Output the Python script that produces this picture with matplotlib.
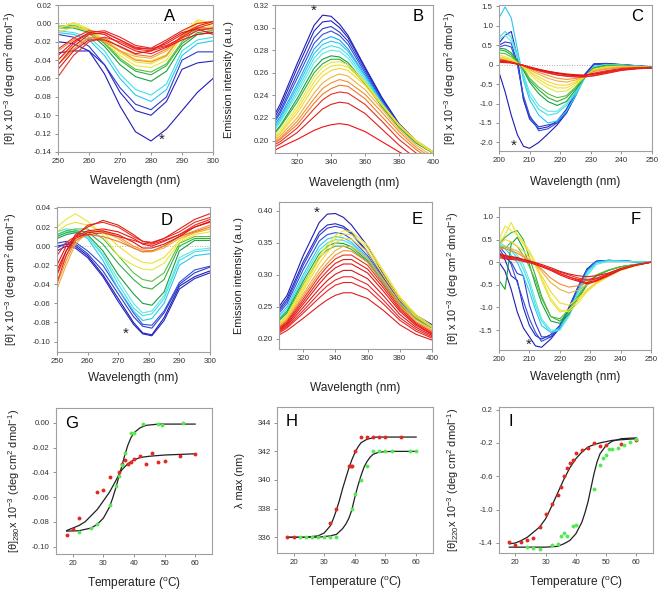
import matplotlib.pyplot as plt

plt.rcParams['font.family'] = ['Liberation Sans', 'DejaVu Sans']
plt.rcParams['mathtext.default'] = 'regular'
plt.rcParams['axes.unicode_minus'] = False

BLUE = ['#1c1cb4', '#2424c0', '#2c3ccc', '#3050d8']
CYAN = ['#1ea0f0', '#28c8f0', '#40e0e8', '#60e8e0']
GREEN = ['#18a040', '#30b040', '#58c040']
YELLOW = ['#e8e840', '#f0e030', '#f5d830']
ORANGE = ['#f0b040', '#f09030', '#f07828']
RED = ['#e83020', '#e02018', '#f01010', '#d81818', '#e82828', '#f02020']

# ---- A: near-UV CD, 250-300 nm
a_wl = [250, 255, 260, 265, 270, 275, 280, 285, 290, 295, 300]
a_curves = [
    [-0.020, -0.022, -0.030, -0.055, -0.090, -0.118, -0.128, -0.115, -0.095, -0.075, -0.060],
    [-0.032, -0.030, -0.030, -0.045, -0.075, -0.095, -0.100, -0.085, -0.050, -0.043, -0.041],
    [-0.012, -0.015, -0.025, -0.045, -0.070, -0.088, -0.094, -0.080, -0.040, -0.031, -0.031],
    [-0.010, -0.012, -0.018, -0.035, -0.060, -0.078, -0.085, -0.072, -0.035, -0.022, -0.019],
    [-0.008, -0.010, -0.015, -0.030, -0.055, -0.072, -0.078, -0.066, -0.030, -0.018, -0.015],
    [-0.005, -0.005, -0.010, -0.025, -0.045, -0.058, -0.063, -0.052, -0.025, -0.012, -0.010],
    [-0.004, -0.004, -0.008, -0.022, -0.040, -0.052, -0.056, -0.046, -0.022, -0.010, -0.008],
    [-0.003, -0.002, -0.007, -0.020, -0.038, -0.050, -0.053, -0.044, -0.020, -0.006, -0.006],
    [-0.005, 0.000, -0.008, -0.020, -0.035, -0.046, -0.048, -0.040, -0.015, 0.002, -0.002],
    [-0.006, 0.001, -0.006, -0.018, -0.032, -0.042, -0.044, -0.036, -0.012, 0.004, 0.000],
    [-0.010, -0.004, -0.008, -0.018, -0.030, -0.039, -0.041, -0.034, -0.014, 0.000, -0.004],
    [-0.040, -0.025, -0.015, -0.018, -0.030, -0.036, -0.038, -0.030, -0.015, -0.005, -0.005],
    [-0.030, -0.018, -0.012, -0.020, -0.030, -0.040, -0.042, -0.035, -0.012, -0.005, -0.008],
    [-0.045, -0.028, -0.016, -0.016, -0.026, -0.034, -0.036, -0.028, -0.014, -0.004, -0.006],
    [-0.058, -0.035, -0.020, -0.015, -0.020, -0.028, -0.030, -0.025, -0.015, -0.005, 0.000],
    [-0.045, -0.025, -0.012, -0.010, -0.018, -0.027, -0.028, -0.022, -0.012, -0.003, 0.002],
    [-0.035, -0.020, -0.010, -0.012, -0.022, -0.030, -0.033, -0.026, -0.018, -0.012, -0.010],
    [-0.050, -0.030, -0.018, -0.018, -0.025, -0.033, -0.030, -0.020, -0.010, -0.006, -0.012],
    [-0.028, -0.016, -0.008, -0.010, -0.018, -0.026, -0.028, -0.024, -0.016, -0.008, -0.005],
    [-0.040, -0.022, -0.010, -0.008, -0.015, -0.024, -0.027, -0.018, -0.008, 0.000, 0.002],
]
a_colors = BLUE[:3] + CYAN[1:3] + GREEN + YELLOW + ORANGE + RED

# ---- B: fluorescence emission
b_wl = [305, 310, 320, 330, 335, 340, 345, 350, 360, 370, 380, 390, 400]
b_curves = [
    [.218, .232, .268, .302, .311, .310, .303, .293, .265, .238, .215, .200, .190],
    [.216, .229, .264, .297, .305, .306, .300, .291, .264, .237, .214, .199, .190],
    [.214, .226, .259, .291, .299, .301, .296, .288, .262, .236, .214, .199, .190],
    [.212, .224, .255, .286, .294, .297, .293, .285, .260, .235, .213, .199, .189],
    [.210, .221, .250, .281, .289, .292, .289, .281, .258, .234, .213, .199, .189],
    [.208, .219, .247, .277, .285, .288, .286, .279, .257, .233, .213, .199, .189],
    [.207, .217, .244, .273, .281, .284, .282, .276, .255, .232, .212, .198, .189],
    [.206, .216, .241, .269, .277, .280, .279, .273, .253, .231, .212, .198, .189],
    [.204, .213, .237, .264, .272, .275, .274, .269, .251, .230, .212, .198, .189],
    [.203, .212, .234, .260, .268, .272, .272, .267, .250, .230, .212, .198, .189],
    [.201, .209, .230, .256, .265, .269, .270, .267, .252, .232, .214, .200, .190],
    [.200, .207, .227, .252, .261, .266, .267, .265, .251, .232, .214, .200, .190],
    [.199, .206, .224, .248, .257, .262, .264, .262, .249, .231, .213, .199, .189],
    [.198, .204, .220, .242, .251, .256, .259, .257, .245, .228, .210, .196, .186],
    [.197, .202, .217, .237, .246, .251, .254, .252, .241, .225, .208, .194, .184],
    [.196, .201, .214, .233, .241, .246, .249, .248, .237, .221, .205, .192, .182],
    [.195, .199, .211, .228, .236, .241, .243, .242, .232, .217, .201, .189, .179],
    [.193, .197, .207, .221, .228, .232, .234, .233, .224, .210, .196, .184, .175],
    [.190, .194, .201, .209, .212, .214, .215, .214, .208, .199, .190, .182, .174],
]
b_colors = BLUE + CYAN + GREEN[:2] + YELLOW + ORANGE + RED[:3]

# ---- C: far-UV CD
c_wl = [200, 202, 204, 206, 208, 210, 213, 216, 219, 222, 225, 228, 231, 235, 240, 245, 250]
c_curves = [
    [-0.20, -0.70, -1.30, -1.80, -2.10, -2.15, -2.00, -1.78, -1.55, -1.25, -0.80, -0.30, 0.00, 0.02, -0.01, -0.04, -0.07],
    [0.55, 0.75, 0.85, 0.20, -0.90, -1.40, -1.65, -1.60, -1.45, -1.15, -0.70, -0.25, 0.02, 0.03, 0.00, -0.03, -0.06],
    [0.50, 0.58, 0.55, 0.05, -0.90, -1.35, -1.60, -1.55, -1.50, -1.20, -0.75, -0.28, 0.00, 0.02, 0.00, -0.03, -0.06],
    [0.45, 0.50, 0.45, 0.00, -0.80, -1.30, -1.70, -1.65, -1.50, -1.25, -0.80, -0.30, 0.00, 0.02, -0.01, -0.04, -0.07],
    [1.20, 1.48, 1.20, 0.40, -0.40, -0.90, -1.30, -1.50, -1.45, -1.20, -0.80, -0.35, -0.05, 0.00, -0.01, -0.04, -0.07],
    [0.70, 0.85, 0.70, 0.25, -0.30, -0.80, -1.15, -1.30, -1.25, -1.05, -0.75, -0.35, -0.05, 0.00, -0.01, -0.04, -0.07],
    [0.65, 0.75, 0.60, 0.20, -0.25, -0.70, -1.05, -1.20, -1.20, -1.00, -0.70, -0.33, -0.06, -0.01, -0.02, -0.04, -0.07],
    [0.42, 0.40, 0.30, 0.10, -0.15, -0.45, -0.75, -0.95, -1.05, -0.95, -0.65, -0.33, -0.08, -0.02, -0.02, -0.05, -0.07],
    [0.38, 0.35, 0.25, 0.08, -0.12, -0.40, -0.65, -0.85, -0.95, -0.85, -0.60, -0.32, -0.09, -0.03, -0.03, -0.05, -0.07],
    [0.30, 0.28, 0.20, 0.06, -0.10, -0.35, -0.58, -0.75, -0.85, -0.80, -0.58, -0.32, -0.10, -0.04, -0.03, -0.05, -0.08],
    [0.25, 0.20, 0.15, 0.05, -0.08, -0.25, -0.45, -0.60, -0.70, -0.68, -0.52, -0.32, -0.12, -0.06, -0.04, -0.06, -0.08],
    [0.20, 0.17, 0.12, 0.04, -0.06, -0.20, -0.38, -0.52, -0.60, -0.60, -0.48, -0.31, -0.13, -0.07, -0.05, -0.06, -0.08],
    [0.18, 0.15, 0.10, 0.03, -0.05, -0.17, -0.32, -0.44, -0.52, -0.53, -0.45, -0.30, -0.14, -0.08, -0.05, -0.06, -0.08],
    [0.15, 0.12, 0.08, 0.03, -0.04, -0.13, -0.25, -0.35, -0.42, -0.45, -0.40, -0.30, -0.16, -0.10, -0.06, -0.07, -0.08],
    [0.14, 0.11, 0.07, 0.02, -0.03, -0.10, -0.20, -0.28, -0.35, -0.38, -0.36, -0.29, -0.18, -0.12, -0.08, -0.07, -0.08],
    [0.12, 0.10, 0.06, 0.02, -0.02, -0.08, -0.15, -0.21, -0.26, -0.29, -0.30, -0.28, -0.22, -0.16, -0.10, -0.08, -0.08],
    [0.10, 0.08, 0.05, 0.01, -0.03, -0.08, -0.14, -0.19, -0.23, -0.26, -0.28, -0.28, -0.24, -0.18, -0.12, -0.09, -0.08],
    [0.08, 0.07, 0.05, 0.02, -0.02, -0.06, -0.12, -0.17, -0.21, -0.24, -0.26, -0.27, -0.25, -0.20, -0.13, -0.10, -0.08],
    [0.06, 0.05, 0.04, 0.01, -0.02, -0.07, -0.13, -0.18, -0.22, -0.26, -0.29, -0.31, -0.29, -0.23, -0.15, -0.11, -0.09],
    [0.12, 0.09, 0.06, 0.02, -0.03, -0.09, -0.16, -0.22, -0.27, -0.30, -0.32, -0.32, -0.28, -0.21, -0.14, -0.10, -0.08],
]
c_colors = BLUE + CYAN[1:] + GREEN + YELLOW + ORANGE[:2] + RED[:5]

# ---- D: near-UV CD, second protein
d_wl = [250, 253, 256, 260, 265, 270, 275, 278, 281, 285, 290, 295, 300]
d_curves = [
    [0.000, 0.002, 0.000, -0.010, -0.030, -0.055, -0.080, -0.091, -0.093, -0.075, -0.042, -0.032, -0.026],
    [-0.005, 0.000, -0.002, -0.012, -0.032, -0.058, -0.082, -0.092, -0.094, -0.078, -0.045, -0.034, -0.028],
    [0.003, 0.005, 0.002, -0.008, -0.026, -0.050, -0.074, -0.084, -0.086, -0.070, -0.040, -0.028, -0.022],
    [-0.002, 0.003, 0.004, -0.005, -0.020, -0.045, -0.070, -0.082, -0.083, -0.068, -0.038, -0.025, -0.021],
    [0.012, 0.016, 0.015, 0.008, -0.015, -0.045, -0.068, -0.078, -0.076, -0.060, -0.020, -0.010, -0.008],
    [0.015, 0.018, 0.017, 0.010, -0.010, -0.040, -0.065, -0.073, -0.071, -0.055, -0.015, -0.006, -0.004],
    [0.010, 0.014, 0.014, 0.010, -0.008, -0.035, -0.060, -0.070, -0.068, -0.052, -0.012, -0.004, -0.002],
    [0.008, 0.012, 0.014, 0.012, -0.005, -0.030, -0.050, -0.060, -0.062, -0.048, -0.005, 0.006, 0.006],
    [0.010, 0.014, 0.016, 0.015, 0.002, -0.018, -0.035, -0.043, -0.045, -0.035, 0.000, 0.008, 0.008],
    [0.012, 0.016, 0.018, 0.018, 0.008, -0.010, -0.028, -0.035, -0.037, -0.028, 0.003, 0.010, 0.010],
    [0.020, 0.028, 0.034, 0.026, 0.012, -0.010, -0.020, -0.024, -0.025, -0.018, 0.004, 0.012, 0.015],
    [0.015, 0.022, 0.025, 0.022, 0.015, 0.000, -0.012, -0.017, -0.018, -0.012, 0.006, 0.014, 0.018],
    [-0.045, -0.020, 0.002, 0.015, 0.015, 0.008, -0.002, -0.006, -0.006, -0.002, 0.008, 0.014, 0.018],
    [-0.040, -0.015, 0.005, 0.015, 0.016, 0.010, 0.000, -0.004, -0.005, 0.000, 0.010, 0.016, 0.022],
    [-0.030, -0.010, 0.006, 0.012, 0.010, 0.005, -0.002, -0.006, -0.005, 0.000, 0.010, 0.015, 0.020],
    [-0.038, -0.010, 0.010, 0.022, 0.025, 0.020, 0.010, 0.005, 0.004, 0.008, 0.015, 0.025, 0.030],
    [-0.030, -0.005, 0.012, 0.020, 0.027, 0.022, 0.012, 0.005, 0.003, 0.008, 0.018, 0.028, 0.034],
    [-0.020, 0.000, 0.010, 0.016, 0.018, 0.015, 0.008, 0.002, 0.000, 0.005, 0.012, 0.020, 0.026],
    [-0.025, -0.005, 0.008, 0.014, 0.016, 0.012, 0.004, -0.002, -0.002, 0.002, 0.010, 0.020, 0.025],
    [-0.010, 0.004, 0.010, 0.012, 0.014, 0.010, 0.006, 0.003, 0.002, 0.006, 0.012, 0.022, 0.028],
]
d_colors = BLUE + CYAN[1:] + GREEN + YELLOW[:2] + ORANGE + RED[:5]

# ---- E: fluorescence emission, second protein
e_wl = [305, 310, 320, 330, 335, 340, 345, 350, 360, 370, 380, 390, 400]
e_curves = [
    [.250, .268, .330, .382, .395, .396, .390, .378, .345, .300, .262, .237, .222],
    [.246, .263, .320, .367, .378, .380, .376, .366, .336, .295, .259, .235, .221],
    [.243, .259, .315, .362, .373, .376, .373, .364, .335, .295, .259, .235, .221],
    [.240, .255, .308, .353, .363, .366, .364, .356, .330, .292, .257, .234, .220],
    [.236, .250, .300, .345, .356, .360, .358, .351, .327, .290, .256, .233, .219],
    [.233, .246, .295, .339, .350, .355, .354, .348, .325, .289, .255, .232, .218],
    [.230, .243, .290, .333, .345, .350, .349, .344, .322, .287, .254, .232, .218],
    [.228, .240, .285, .327, .339, .345, .345, .340, .320, .286, .253, .231, .217],
    [.225, .237, .283, .330, .347, .362, .369, .368, .346, .306, .266, .238, .220],
    [.223, .235, .279, .325, .342, .357, .364, .363, .342, .303, .264, .236, .219],
    [.222, .233, .275, .318, .335, .350, .357, .356, .336, .298, .261, .234, .218],
    [.220, .231, .270, .309, .325, .338, .345, .344, .326, .292, .256, .230, .214],
    [.218, .229, .266, .303, .318, .331, .338, .337, .320, .287, .252, .227, .212],
    [.217, .227, .262, .298, .313, .325, .331, .331, .315, .283, .249, .225, .210],
    [.215, .225, .258, .292, .306, .318, .324, .324, .309, .279, .246, .223, .208],
    [.214, .223, .254, .286, .300, .311, .317, .317, .303, .274, .243, .221, .207],
    [.212, .221, .249, .278, .291, .301, .307, .307, .294, .267, .238, .218, .205],
    [.211, .219, .244, .271, .283, .292, .297, .297, .285, .260, .233, .215, .203],
    [.209, .217, .240, .264, .275, .284, .288, .288, .277, .254, .229, .212, .201],
    [.206, .213, .232, .252, .261, .268, .272, .272, .263, .244, .222, .207, .198],
]
e_colors = BLUE + CYAN[1:3] + GREEN[:2] + YELLOW + ORANGE[:2] + RED + ['#e01c1c']

# ---- F: far-UV CD, second protein
f_wl = [200, 202, 204, 206, 208, 210, 212, 214, 217, 220, 223, 226, 229, 232, 236, 240, 245, 250]
f_curves = [
    [0.00, -0.20, -0.60, -1.10, -1.45, -1.65, -1.85, -1.88, -1.70, -1.45, -1.05, -0.55, -0.15, 0.02, 0.04, 0.03, 0.01, 0.00],
    [0.20, 0.05, -0.30, -0.40, -1.00, -1.40, -1.62, -1.70, -1.60, -1.40, -1.00, -0.55, -0.15, 0.02, 0.04, 0.03, 0.01, 0.00],
    [0.30, 0.10, 0.00, -0.25, -0.30, -0.95, -1.35, -1.65, -1.65, -1.45, -1.05, -0.58, -0.18, 0.00, 0.04, 0.03, 0.01, 0.00],
    [0.35, 0.20, -0.05, -0.45, -0.85, -1.25, -1.55, -1.75, -1.65, -1.40, -1.00, -0.55, -0.15, 0.02, 0.04, 0.03, 0.01, 0.00],
    [0.40, 0.30, 0.15, 0.00, -0.30, -0.65, -1.05, -1.40, -1.55, -1.45, -1.10, -0.62, -0.20, 0.00, 0.04, 0.03, 0.01, 0.00],
    [0.45, 0.35, 0.25, 0.10, -0.15, -0.50, -0.95, -1.30, -1.55, -1.50, -1.15, -0.68, -0.25, -0.02, 0.03, 0.02, 0.01, 0.00],
    [0.30, 0.35, 0.30, 0.15, -0.05, -0.40, -0.85, -1.25, -1.50, -1.50, -1.20, -0.75, -0.30, -0.05, 0.02, 0.02, 0.01, 0.00],
    [-0.40, -0.60, 0.40, 0.55, 0.30, -0.05, -0.50, -0.90, -1.30, -1.35, -1.15, -0.80, -0.50, -0.30, -0.18, -0.10, -0.05, 0.00],
    [0.40, 0.55, 0.65, 0.70, 0.50, 0.10, -0.30, -0.75, -1.20, -1.30, -1.10, -0.78, -0.48, -0.30, -0.18, -0.10, -0.05, 0.00],
    [0.35, 0.30, 0.45, 0.35, 0.15, -0.10, -0.40, -0.80, -1.20, -1.25, -1.05, -0.75, -0.45, -0.28, -0.17, -0.10, -0.05, 0.00],
    [0.50, 0.80, 0.70, 0.60, 0.45, 0.25, 0.00, -0.35, -0.80, -1.05, -1.10, -0.90, -0.65, -0.48, -0.32, -0.18, -0.08, 0.00],
    [0.45, 0.60, 0.88, 0.60, 0.40, 0.20, -0.05, -0.40, -0.85, -1.10, -1.05, -0.85, -0.62, -0.45, -0.30, -0.17, -0.07, 0.00],
    [0.40, 0.50, 0.45, 0.35, 0.25, 0.10, -0.10, -0.30, -0.65, -0.90, -0.95, -0.80, -0.60, -0.45, -0.30, -0.17, -0.07, 0.00],
    [0.35, 0.35, 0.30, 0.25, 0.15, 0.05, -0.05, -0.20, -0.45, -0.60, -0.68, -0.62, -0.50, -0.40, -0.27, -0.15, -0.06, 0.00],
    [0.30, 0.30, 0.25, 0.20, 0.12, 0.03, -0.05, -0.15, -0.35, -0.48, -0.55, -0.52, -0.45, -0.36, -0.25, -0.14, -0.06, 0.00],
    [0.20, 0.15, 0.12, 0.10, 0.06, 0.02, -0.03, -0.08, -0.15, -0.22, -0.28, -0.35, -0.38, -0.35, -0.26, -0.15, -0.06, 0.00],
    [0.15, 0.12, 0.10, 0.08, 0.05, 0.01, -0.03, -0.08, -0.16, -0.25, -0.32, -0.40, -0.45, -0.40, -0.28, -0.16, -0.06, 0.00],
    [0.10, 0.08, 0.06, 0.05, 0.02, -0.01, -0.05, -0.10, -0.18, -0.28, -0.36, -0.42, -0.48, -0.42, -0.30, -0.17, -0.07, 0.00],
    [0.18, 0.14, 0.12, 0.10, 0.06, 0.03, -0.01, -0.05, -0.12, -0.20, -0.26, -0.30, -0.32, -0.30, -0.24, -0.14, -0.06, 0.00],
    [0.12, 0.10, 0.08, 0.06, 0.03, 0.00, -0.04, -0.09, -0.17, -0.25, -0.33, -0.38, -0.40, -0.37, -0.27, -0.15, -0.06, 0.00],
]
f_colors = BLUE + CYAN[1:] + GREEN + YELLOW + ORANGE[:2] + RED[:5]

# ---- G: theta 280 vs temperature
g_red_t = [18, 20, 22, 28, 30, 32, 35, 36, 37, 38, 39, 40, 42, 44, 46, 48, 50, 55, 60]
g_red_v = [-0.091, -0.086, -0.077, -0.056, -0.054, -0.044, -0.040, -0.033, -0.030, -0.033, -0.032,
           -0.029, -0.027, -0.033, -0.024, -0.032, -0.031, -0.027, -0.025]
g_green_t = [22, 26, 28, 32, 34, 35, 36, 37, 39, 40, 43, 48, 49, 56]
g_green_v = [-0.088, -0.085, -0.082, -0.066, -0.051, -0.043, -0.034, -0.024, -0.008, -0.008,
             -0.001, -0.001, -0.002, -0.0005]
g_fit_red_t = [18, 20, 22, 24, 26, 28, 30, 32, 34, 35, 36, 38, 40, 42, 45, 50, 55, 60]
g_fit_red_v = [-0.087, -0.085, -0.083, -0.080, -0.075, -0.070, -0.063, -0.056, -0.047, -0.042,
               -0.038, -0.033, -0.030, -0.028, -0.027, -0.026, -0.0255, -0.025]
g_fit_green_t = [18, 22, 26, 28, 30, 32, 33, 34, 35, 36, 37, 38, 39, 40, 42, 44, 48, 60]
g_fit_green_v = [-0.0875, -0.0872, -0.085, -0.082, -0.077, -0.068, -0.061, -0.053, -0.044, -0.035,
                 -0.026, -0.018, -0.012, -0.008, -0.004, -0.002, -0.001, -0.001]

# ---- H: lambda max vs temperature
h_red_t = [18, 20, 32, 34, 38, 38.6, 39, 40, 42, 44, 46, 48, 50, 55]
h_red_v = [336, 336, 337, 338, 341, 341, 341, 342, 343, 343, 343, 343, 343, 343]
h_green_t = [22, 24, 26, 28, 30, 32, 34, 39, 40, 42, 44, 46, 48, 50, 52, 58, 60]
h_green_v = [336, 336, 336, 336, 336, 336, 336, 338, 339, 340, 341, 342, 342, 342, 342, 342, 342]
h_fit_red_t = [18, 24, 28, 30, 32, 33, 34, 35, 36, 37, 38, 39, 40, 41, 42, 44, 47, 60]
h_fit_red_v = [336.0, 336.0, 336.1, 336.3, 336.8, 337.3, 337.9, 338.6, 339.4, 340.1, 340.8, 341.4,
               341.9, 342.3, 342.6, 342.85, 343.0, 343.0]
h_fit_green_t = [18, 28, 32, 34, 36, 37, 38, 39, 40, 41, 42, 43, 44, 45, 46, 48, 52, 60]
h_fit_green_v = [336.0, 336.0, 336.1, 336.2, 336.6, 336.9, 337.3, 337.9, 338.8, 339.6, 340.3, 340.9,
                 341.3, 341.6, 341.8, 341.95, 342.0, 342.0]

# ---- I: theta 220 vs temperature
i_red_t = [18, 20, 22, 24, 26, 28, 30, 32, 34, 35, 36, 37, 38, 39, 40, 42, 44, 46, 48, 50, 55, 60]
i_red_v = [-1.39, -1.43, -1.39, -1.37, -1.34, -1.21, -1.05, -0.93, -0.83, -0.73, -0.60, -0.50, -0.44,
           -0.40, -0.32, -0.28, -0.26, -0.20, -0.24, -0.22, -0.21, -0.17]
i_green_t = [24, 26, 28, 32, 34, 35, 36, 37, 39, 40, 46, 48, 49, 50, 51, 52, 54, 56, 58, 60]
i_green_v = [-1.45, -1.46, -1.47, -1.42, -1.41, -1.32, -1.28, -1.32, -1.20, -1.19, -0.75, -0.46, -0.38,
             -0.35, -0.27, -0.27, -0.26, -0.22, -0.19, -0.15]
i_fit_red_t = [18, 20, 22, 24, 26, 28, 30, 32, 34, 36, 38, 40, 42, 44, 46, 48, 52, 56, 60]
i_fit_red_v = [-1.41, -1.40, -1.37, -1.33, -1.27, -1.21, -1.11, -0.96, -0.80, -0.64, -0.50, -0.39,
               -0.31, -0.25, -0.22, -0.20, -0.17, -0.16, -0.15]
i_fit_green_t = [18, 24, 30, 34, 36, 38, 40, 42, 43, 44, 45, 46, 47, 48, 50, 52, 55, 60]
i_fit_green_v = [-1.45, -1.45, -1.45, -1.44, -1.41, -1.37, -1.29, -1.15, -1.04, -0.91, -0.74, -0.57,
                 -0.43, -0.33, -0.23, -0.18, -0.15, -0.14]

# tick values and labels
cd_near_ticks = [0.02, 0.00, -0.02, -0.04, -0.06, -0.08, -0.10, -0.12, -0.14]
b_yticks = [0.20, 0.22, 0.24, 0.26, 0.28, 0.30, 0.32]
c_yticks = [1.5, 1.0, 0.5, 0, -0.5, -1.0, -1.5, -2.0]
c_ylabels = ['1.5', '1.0', '0.5', '0', '-0.5', '-1.0', '-1.5', '-2.0']
d_yticks = [0.04, 0.02, 0.00, -0.02, -0.04, -0.06, -0.08, -0.10]
e_yticks = [0.20, 0.25, 0.30, 0.35, 0.40]
f_yticks = [1.0, 0.5, 0, -0.5, -1.0, -1.5]
f_ylabels = ['1.0', '0.5', '0', '-0.5', '-1.0', '-1.5']
g_yticks = [0.00, -0.02, -0.04, -0.06, -0.08, -0.10]
h_yticks = [336, 338, 340, 342, 344]
i_yticks = [0.2, -0.2, -0.6, -1.0, -1.4]
temp_ticks = [20, 30, 40, 50, 60]

W, H = 661, 594
fig = plt.figure(figsize=(W / 100, H / 100), dpi=100)

CD_LABEL = '[θ] x 10$^{-3}$ (deg cm$^{2}$ dmol$^{-1}$)'


def px_axes(left, right, top, bottom):
    return fig.add_axes([left / W, 1 - bottom / H, (right - left) / W, (bottom - top) / H])


def style(ax, xlim, ylim, xticks, yticks, ylabels, fmt, xlabel, ylabel, ylab_x, xlab_y, letter, lx, ly):
    ax.set_xlim(xlim)
    ax.set_ylim(ylim)
    ax.set_xticks(xticks)
    ax.set_xticklabels([str(t) for t in xticks])
    if ylabels is None:
        ylabels = [fmt.format(v) for v in yticks]
    ax.set_yticks(yticks)
    ax.set_yticklabels(ylabels)
    for s in ax.spines.values():
        s.set_color('#a0a0a0')
        s.set_linewidth(0.8)
    ax.tick_params(direction='out', length=2.5, width=0.6, color='#808080',
                   labelsize=5.7, labelcolor='#333333', pad=2)
    ax.set_xlabel(xlabel, fontsize=8.6, color='#222222')
    ax.set_ylabel(ylabel, fontsize=7.9, color='#222222')
    ax.xaxis.label.set_va('center')
    ax.yaxis.label.set_va('center')
    ax.xaxis.set_label_coords(0.5, xlab_y)
    ax.yaxis.set_label_coords(ylab_x, 0.5)
    ax.text(lx, ly, letter, transform=ax.transAxes, fontsize=12, ha='center', va='center')


def spectra(ax, wl, curves, colors):
    for vals, col in zip(curves, colors):
        ax.plot(wl, vals, color=col, lw=0.8)


def star(ax, x, y):
    ax.text(x, y, '*', fontsize=11, ha='center', va='center', color='#222222')


# A
ax = px_axes(58, 213, 5, 152)
ax.axhline(0, color='#909090', lw=0.6, ls=(0, (1, 2)))
spectra(ax, a_wl, a_curves, a_colors)
star(ax, 283.5, -0.127)
style(ax, (250, 300), (-0.14, 0.02), [250, 260, 270, 280, 290, 300], cd_near_ticks, None, '{:.2f}',
      'Wavelength (nm)', CD_LABEL, -0.31, -0.2, 'A', 0.72, 0.92)

# B
ax = px_axes(275, 433, 5, 153)
spectra(ax, b_wl, b_curves, b_colors)
star(ax, 329.5, 0.3145)
style(ax, (307, 400), (0.189, 0.32), [320, 340, 360, 380, 400], b_yticks, None, '{:.2f}',
      'Wavelength (nm)', 'Emission intensity (a.u.)', -0.29, -0.2, 'B', 0.905, 0.925)

# C
ax = px_axes(499, 652, 5, 151)
ax.axhline(0, color='#909090', lw=0.6, ls=(0, (1, 2)))
spectra(ax, c_wl, c_curves, c_colors)
star(ax, 204.8, -2.08)
style(ax, (200, 250), (-2.22, 1.53), [200, 210, 220, 230, 240, 250], c_yticks, c_ylabels, None,
      'Wavelength (nm)', CD_LABEL, -0.32, -0.21, 'C', 0.9, 0.92)

# D
ax = px_axes(57, 210, 207, 352)
ax.axhline(0, color='#a0a0a0', lw=0.6, ls=(0, (1, 2)))
spectra(ax, d_wl, d_curves, d_colors)
star(ax, 272.3, -0.092)
style(ax, (250, 300), (-0.111, 0.041), [250, 260, 270, 280, 290, 300], d_yticks, None, '{:.2f}',
      'Wavelength (nm)', CD_LABEL, -0.30, -0.18, 'D', 0.717, 0.91)

# E
ax = px_axes(279, 432, 202, 349)
spectra(ax, e_wl, e_curves, e_colors)
star(ax, 328.3, 0.397)
style(ax, (305, 400), (0.184, 0.414), [320, 340, 360, 380, 400], e_yticks, None, '{:.2f}',
      'Wavelength (nm)', 'Emission intensity (a.u.)', -0.26, -0.265, 'E', 0.9, 0.88)

# F
ax = px_axes(499, 651, 207, 350)
ax.axhline(0, color='#d0d0d0', lw=0.8)
spectra(ax, f_wl, f_curves, f_colors)
star(ax, 209.9, -1.83)
style(ax, (200, 250), (-1.94, 1.22), [200, 210, 220, 230, 240, 250], f_yticks, f_ylabels, None,
      'Wavelength (nm)', CD_LABEL, -0.30, -0.19, 'F', 0.9, 0.91)

RED_PT = '#e02a22'
GREEN_PT = '#55e855'

# G
ax = px_axes(56, 212, 408, 554)
ax.plot(g_fit_red_t, g_fit_red_v, color='#202020', lw=0.9)
ax.plot(g_fit_green_t, g_fit_green_v, color='#202020', lw=0.9)
ax.plot(g_red_t, g_red_v, 'o', color=RED_PT, ms=2.8, mew=0)
ax.plot(g_green_t, g_green_v, 'o', color=GREEN_PT, ms=2.8, mew=0)
style(ax, (14.5, 65.5), (-0.106, 0.012), temp_ticks, g_yticks, None, '{:.2f}',
      'Temperature ($^{o}$C)', '[θ]$_{280}$x 10$^{-3}$ (deg cm$^{2}$ dmol$^{-1}$)',
      -0.27, -0.2, 'G', 0.1, 0.895)

# H
ax = px_axes(277, 433, 407, 553)
ax.plot(h_fit_red_t, h_fit_red_v, color='#202020', lw=0.9)
ax.plot(h_fit_green_t, h_fit_green_v, color='#202020', lw=0.9)
ax.plot(h_red_t, h_red_v, 'o', color=RED_PT, ms=2.8, mew=0)
ax.plot(h_green_t, h_green_v, 'o', color=GREEN_PT, ms=2.8, mew=0)
style(ax, (14.6, 65.5), (334.9, 345.1), temp_ticks, h_yticks, None, '{:d}',
      'Temperature ($^{o}$C)', 'λ max (nm)', -0.24, -0.2, 'H', 0.094, 0.9)

# I
ax = px_axes(499, 653, 407, 553)
ax.plot(i_fit_red_t, i_fit_red_v, color='#202020', lw=0.9)
ax.plot(i_fit_green_t, i_fit_green_v, color='#202020', lw=0.9)
ax.plot(i_red_t, i_red_v, 'o', color=RED_PT, ms=2.8, mew=0)
ax.plot(i_green_t, i_green_v, 'o', color=GREEN_PT, ms=2.8, mew=0)
style(ax, (14.6, 65.5), (-1.52, 0.23), temp_ticks, i_yticks, None, '{:.1f}',
      'Temperature ($^{o}$C)', '[θ]$_{220}$x 10$^{-3}$ (deg cm$^{2}$ dmol$^{-1}$)',
      -0.30, -0.2, 'I', 0.076, 0.9)

fig.savefig('out.png', dpi=100)
